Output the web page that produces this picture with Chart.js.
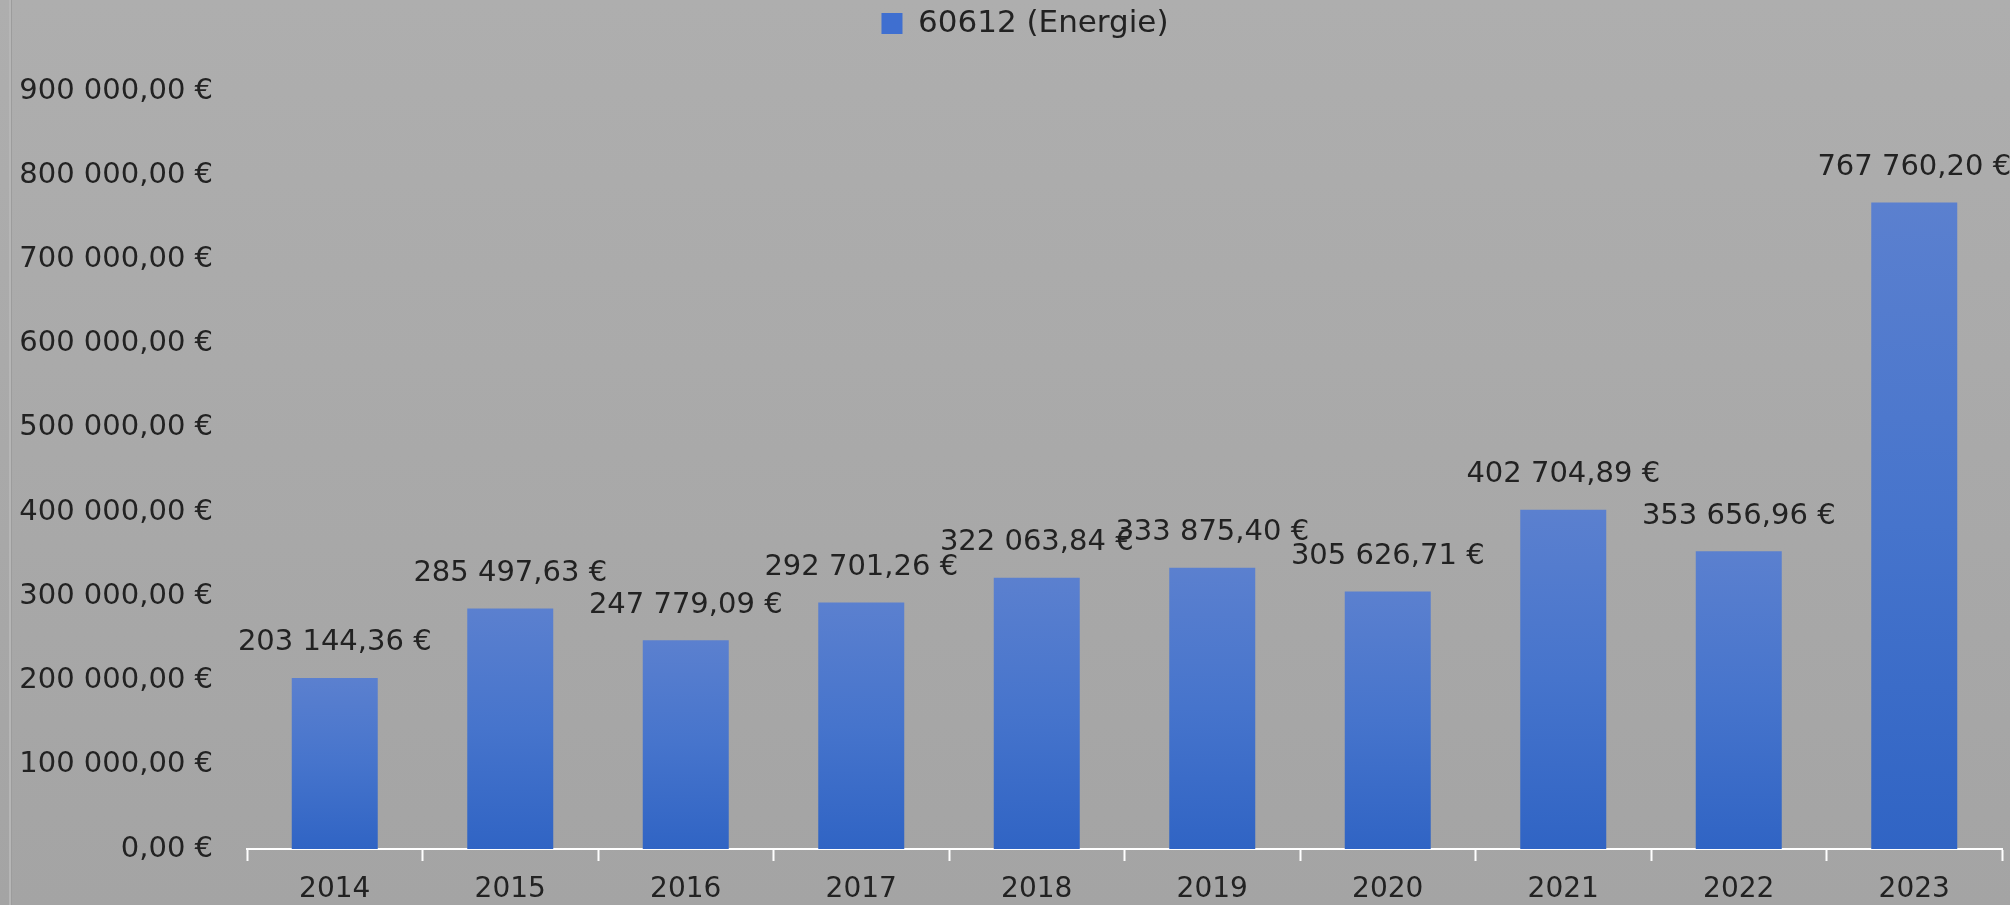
<!DOCTYPE html>
<html>
<head>
<meta charset="utf-8">
<script src="https://cdn.jsdelivr.net/npm/chart.js@4"></script>
<style>
  html, body { margin: 0; padding: 0; background: #aaaaaa; }
  #wrap { width: 2010px; height: 905px; }
</style>
</head>
<body>
<div id="wrap"><canvas id="chart" width="2010" height="905"></canvas></div>
<script>
// data
const years = ['2014', '2015', '2016', '2017', '2018', '2019', '2020', '2021', '2022', '2023'];
const energie = [203144.36, 285497.63, 247779.09, 292701.26, 322063.84, 333875.40, 305626.71, 402704.89, 353656.96, 767760.20];
const seriesLabel = '60612 (Energie)';
const yMax = 900000;
const yStep = 100000;

const FONT = 'DejaVu Sans';

// "900 000,00 €" style
function euro(v) {
  const parts = v.toFixed(2).split('.');
  const int = parts[0].replace(/\B(?=(\d{3})+(?!\d))/g, ' ');
  return int + ',' + parts[1] + ' €';
}

// grey backdrop
const backdrop = {
  id: 'backdrop',
  beforeDraw(chart) {
    const { ctx, width, height } = chart;
    const g = ctx.createLinearGradient(0, 0, 0, height);
    g.addColorStop(0, '#aeaeae');
    g.addColorStop(1, '#a4a4a4');
    ctx.save();
    ctx.fillStyle = g;
    ctx.fillRect(0, 0, width, height);
    ctx.fillStyle = '#b6b6b6';
    ctx.fillRect(9, 0, 2, height);
    ctx.fillStyle = '#9c9c9c';
    ctx.fillRect(11, 0, 1, height);
    ctx.restore();
  }
};

// legend sits a little right of the page centre
const legendNudge = {
  id: 'legendNudge',
  afterLayout(chart) {
    if (chart.legend) {
      chart.legend.left += 24;
      chart.legend.right += 24;
    }
  }
};

// value labels above the bars
const valueLabels = {
  id: 'valueLabels',
  afterDatasetsDraw(chart) {
    const { ctx } = chart;
    const meta = chart.getDatasetMeta(0);
    ctx.save();
    ctx.font = '29px "' + FONT + '"';
    ctx.fillStyle = '#222222';
    ctx.textAlign = 'center';
    ctx.textBaseline = 'middle';
    meta.data.forEach((bar, i) => {
      ctx.fillText(euro(energie[i]), bar.x, bar.y - 35);
    });
    ctx.restore();
  }
};

function barFill(c) {
  const chart = c.chart;
  const y = chart.scales.y;
  if (!chart.chartArea || !y || c.raw == null) return '#4673cc';
  const top = y.getPixelForValue(c.raw);
  const bottom = y.getPixelForValue(0);
  const g = chart.ctx.createLinearGradient(0, top, 0, bottom);
  g.addColorStop(0, '#5b80cf');
  g.addColorStop(0.5, '#4674cc');
  g.addColorStop(1, '#3064c4');
  return g;
}

new Chart(document.getElementById('chart'), {
  type: 'bar',
  data: {
    labels: years,
    datasets: [{
      label: seriesLabel,
      data: energie,
      backgroundColor: barFill,
      borderWidth: 0,
      categoryPercentage: 1,
      barPercentage: 0.49
    }]
  },
  plugins: [backdrop, legendNudge, valueLabels],
  options: {
    responsive: false,
    animation: false,
    devicePixelRatio: 1,
    layout: { padding: { top: 0, left: 0, right: 8, bottom: 0 } },
    plugins: {
      legend: {
        position: 'top',
        labels: {
          color: '#222222',
          font: { family: FONT, size: 31 },
          boxWidth: 21,
          boxHeight: 21,
          padding: 8,
          generateLabels() {
            return [{ text: seriesLabel, fillStyle: '#3f6fd0', strokeStyle: '#3f6fd0', lineWidth: 0, fontColor: '#222222' }];
          }
        }
      },
      // empty title used as a spacer under the legend
      title: {
        display: true,
        text: ' ',
        weight: 500,
        font: { size: 10 },
        padding: { top: 0, bottom: 30 }
      },
      tooltip: { enabled: false }
    },
    scales: {
      x: {
        grid: {
          display: true,
          drawOnChartArea: false,
          drawTicks: true,
          tickLength: 12,
          tickColor: '#ffffff',
          tickWidth: 2,
          offset: true
        },
        border: { display: true, color: '#ffffff', width: 2 },
        afterFit(scale) { scale.height = 56; },
        ticks: {
          color: '#222222',
          font: { family: FONT, size: 28 },
          padding: 12,
          maxRotation: 0
        }
      },
      y: {
        min: 0,
        max: yMax,
        grid: { display: false },
        border: { display: false },
        afterFit(scale) { scale.width = 247; },
        ticks: {
          stepSize: yStep,
          color: '#222222',
          font: { family: FONT, size: 29 },
          padding: 26,
          callback: v => euro(v)
        }
      }
    }
  }
});
</script>
</body>
</html>
